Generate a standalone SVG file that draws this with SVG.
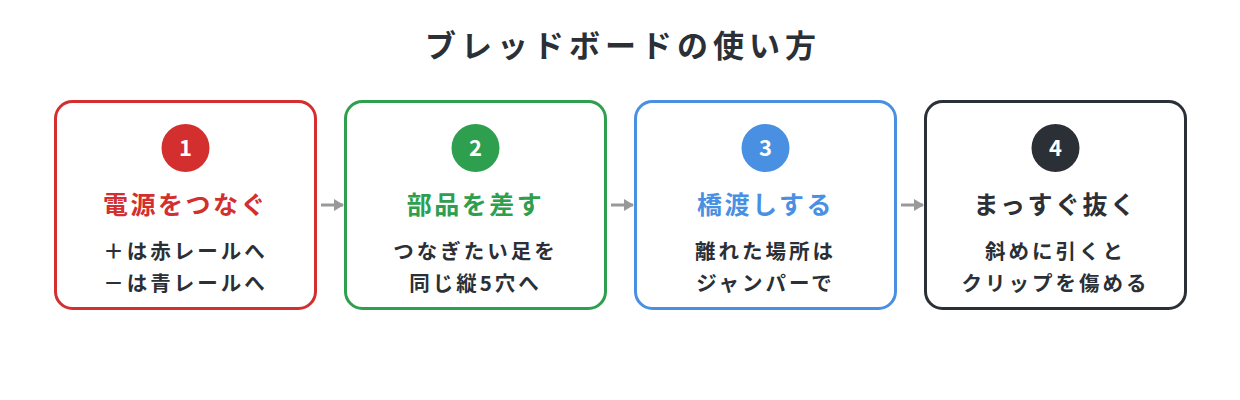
<svg xmlns="http://www.w3.org/2000/svg" width="1240" height="400" viewBox="0 0 1240 400">
<defs>
<style>
text{font-family:"Noto Sans CJK JP","Noto Sans",sans-serif;text-anchor:middle;font-weight:bold}
.ttl{font-size:31px;fill:#2b2f36;letter-spacing:5px}
.box{fill:#fff;stroke-width:3}
.num{font-size:22px;fill:#fff}
.head{font-size:25px;letter-spacing:2.5px}
.body{font-size:20.5px;fill:#2b2f36;letter-spacing:3px}
.conn{stroke:#999;stroke-width:3;fill:none}
</style>
<marker id="ah" viewBox="0 0 10 12" refX="9" refY="6" markerWidth="10" markerHeight="12" markerUnits="userSpaceOnUse" orient="auto">
<path d="M0,0 L10,6 L0,12 Z" fill="#999"/>
</marker>
</defs>
<rect width="1240" height="400" fill="#fff"/>
<text class="ttl" x="623" y="57">ブレッドボードの使い方</text>
<g id="step1">
<rect class="box" x="55.5" y="101.5" width="260" height="207" rx="17" stroke="#d32f2f"/>
<circle cx="185.5" cy="148" r="24" fill="#d32f2f"/>
<text class="num" x="185.5" y="156">1</text>
<text class="head" x="185.5" y="214" fill="#d32f2f">電源をつなぐ</text>
<text class="body" x="185.5" y="259">＋は赤レールへ</text>
<text class="body" x="185.5" y="291">－は青レールへ</text>
</g>
<g id="step2">
<rect class="box" x="345.5" y="101.5" width="260" height="207" rx="17" stroke="#2e9e4f"/>
<circle cx="475.5" cy="148" r="24" fill="#2e9e4f"/>
<text class="num" x="475.5" y="156">2</text>
<text class="head" x="475.5" y="214" fill="#2e9e4f">部品を差す</text>
<text class="body" x="475.5" y="259">つなぎたい足を</text>
<text class="body" x="475.5" y="291">同じ縦5穴へ</text>
</g>
<g id="step3">
<rect class="box" x="635.5" y="101.5" width="260" height="207" rx="17" stroke="#4a90e2"/>
<circle cx="765.5" cy="148" r="24" fill="#4a90e2"/>
<text class="num" x="765.5" y="156">3</text>
<text class="head" x="765.5" y="214" fill="#4a90e2">橋渡しする</text>
<text class="body" x="765.5" y="259">離れた場所は</text>
<text class="body" x="765.5" y="291">ジャンパーで</text>
</g>
<g id="step4">
<rect class="box" x="925.5" y="101.5" width="260" height="207" rx="17" stroke="#2b2f36"/>
<circle cx="1055.5" cy="148" r="24" fill="#2b2f36"/>
<text class="num" x="1055.5" y="156">4</text>
<text class="head" x="1055.5" y="214" fill="#2b2f36">まっすぐ抜く</text>
<text class="body" x="1055.5" y="259">斜めに引くと</text>
<text class="body" x="1055.5" y="291">クリップを傷める</text>
</g>
<g id="connectors">
<line class="conn" x1="321" y1="205" x2="343" y2="205" marker-end="url(#ah)"/>
<line class="conn" x1="611" y1="205" x2="633" y2="205" marker-end="url(#ah)"/>
<line class="conn" x1="901" y1="205" x2="923" y2="205" marker-end="url(#ah)"/>
</g>
</svg>
